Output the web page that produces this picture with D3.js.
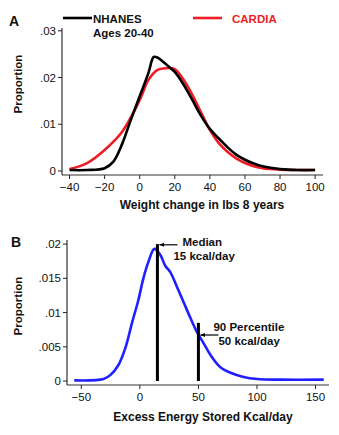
<!DOCTYPE html>
<html>
<head>
<meta charset="utf-8">
<script src="https://cdn.jsdelivr.net/npm/d3@7"></script>
<style>
  body { margin: 0; background: #fff; }
  svg text { font-family: "Liberation Sans", Arial, sans-serif; fill: #111; }
</style>
</head>
<body>
<script>
// weight change distributions (lbs over 8 years)
var weightLbs =      [-40, -30, -20, -15, -10, -5, 0, 5, 8, 10, 13, 17, 20, 25, 30, 35, 40, 45, 50, 55, 60, 65, 70, 80, 90, 100];
var nhanesProp =     [0.0002, 0.0002, 0.0006, 0.002, 0.0058, 0.011, 0.016, 0.021, 0.0244, 0.0243, 0.0235, 0.0222, 0.0212, 0.0185, 0.0152, 0.0118, 0.009, 0.007, 0.0051, 0.0035, 0.0024, 0.0016, 0.001, 0.0004, 0.0002, 0.0002];
var cardiaLbs =      [-40, -30, -20, -10, 0, 5, 10, 15, 20, 25, 30, 35, 40, 45, 50, 55, 60, 65, 70, 80, 100];
var cardiaProp =     [0.0004, 0.0017, 0.0045, 0.0084, 0.0152, 0.0195, 0.0216, 0.022, 0.0218, 0.0195, 0.0163, 0.0125, 0.0088, 0.006, 0.0041, 0.0027, 0.0017, 0.001, 0.0006, 0.0003, 0.0002];
var weightTicks = [-40, -20, 0, 20, 40, 60, 80, 100];
var propTicksA = [0, 0.01, 0.02, 0.03];
var propLabelsA = ["0", ".01", ".02", ".03"];

// excess energy stored (kcal/day)
var energyKcal = [-56, -31, -25, -18.4, -12.4, -6.7, -1.3, 3, 7.3, 12.4, 17.5, 21.8, 26, 31.8, 37.4, 43.2, 48.9, 54.5, 60.3, 68.8, 77.4, 88.5, 100, 120, 157];
var energyProp = [0.0001, 0.0003, 0.0009, 0.0023, 0.0048, 0.0085, 0.0118, 0.015, 0.0174, 0.0193, 0.0184, 0.0168, 0.0159, 0.0137, 0.0115, 0.0092, 0.0071, 0.0055, 0.0038, 0.002, 0.0012, 0.0006, 0.0003, 0.0002, 0.0002];
var energyTicks = [-50, 0, 50, 100, 150];
var propTicksB = [0, 0.005, 0.01, 0.015, 0.02];
var propLabelsB = ["0", ".005", ".01", ".015", ".02"];
var markerKcal = [15, 50];
var markerTop = [0.02, 0.0085];
var markerText = [["Median", "15 kcal/day"], ["90 Percentile", "50 kcal/day"]];

var svg = d3.select("body").append("svg")
  .attr("width", 339).attr("height", 435);

function axes(g, x, y, xt, yt, ylabels) {
  var x0 = x.range()[0], x1 = x.range()[1];
  var y0 = y.range()[0], y1 = y.range()[1];
  g.append("line").attr("x1", x0).attr("x2", x0).attr("y1", y0).attr("y2", y1)
    .attr("stroke", "#333").attr("stroke-width", 1.2);
  g.append("line").attr("x1", x0).attr("x2", x1).attr("y1", y0).attr("y2", y0)
    .attr("stroke", "#333").attr("stroke-width", 1.2);
  g.selectAll(".yt").data(yt).enter().append("line")
    .attr("x1", x0 - 4).attr("x2", x0).attr("y1", y).attr("y2", y)
    .attr("stroke", "#222");
  g.selectAll(".yl").data(yt).enter().append("text")
    .attr("x", x0 - 6).attr("y", function(d){ return y(d) + 4; })
    .attr("text-anchor", "end").style("font-size", "11.5px")
    .text(function(d, i){ return ylabels[i]; });
  g.selectAll(".xt").data(xt).enter().append("line")
    .attr("x1", x).attr("x2", x).attr("y1", y0).attr("y2", y0 + 4)
    .attr("stroke", "#222");
  g.selectAll(".xl").data(xt).enter().append("text")
    .attr("x", x).attr("y", y0 + 16)
    .attr("text-anchor", "middle").style("font-size", "11.5px")
    .text(function(d){ return d < 0 ? "\u2212" + (-d) : d; });
}

// ---- panel A ----
var xA = d3.scaleLinear().domain([-44.3, 104.5]).range([62, 323]);
var yA = d3.scaleLinear().domain([-0.00086, 0.0306]).range([175, 28]);
var gA = svg.append("g");
axes(gA, xA, yA, weightTicks, propTicksA, propLabelsA);

var lineA = d3.line().curve(d3.curveCatmullRom)
  .x(function(d){ return xA(d[0]); }).y(function(d){ return yA(d[1]); });
gA.append("path").datum(d3.zip(cardiaLbs, cardiaProp))
  .attr("d", lineA).attr("fill", "none").attr("stroke", "#ee1c24").attr("stroke-width", 2.6);
gA.append("path").datum(d3.zip(weightLbs, nhanesProp))
  .attr("d", lineA).attr("fill", "none").attr("stroke", "#000").attr("stroke-width", 2.6);

// legend
gA.append("line").attr("x1", 63).attr("x2", 92).attr("y1", 18).attr("y2", 18)
  .attr("stroke", "#000").attr("stroke-width", 2.6);
gA.append("text").attr("x", 93).attr("y", 23).style("font-size", "11.5px").style("font-weight", "bold").text("NHANES");
gA.append("text").attr("x", 93).attr("y", 37).style("font-size", "11.5px").style("font-weight", "bold").text("Ages 20-40");
gA.append("line").attr("x1", 193).attr("x2", 222).attr("y1", 18).attr("y2", 18)
  .attr("stroke", "#ee1c24").attr("stroke-width", 2.6);
gA.append("text").attr("x", 232).attr("y", 23).style("font-size", "11.5px").style("font-weight", "bold")
  .style("fill", "#ee1c24").text("CARDIA");

gA.append("text").attr("x", 9).attr("y", 26).style("font-size", "14px").style("font-weight", "bold").text("A");
gA.append("text").attr("transform", "translate(22,84) rotate(-90)").attr("text-anchor", "middle")
  .style("font-size", "11.5px").style("font-weight", "bold").text("Proportion");
gA.append("text").attr("x", 202).attr("y", 209).attr("text-anchor", "middle")
  .style("font-size", "12px").style("font-weight", "bold").text("Weight change in lbs 8 years");

// ---- panel B ----
var xB = d3.scaleLinear().domain([-62.2, 161.5]).range([67, 329]);
var yB = d3.scaleLinear().domain([-0.00058, 0.0206]).range([385, 240]);
var gB = svg.append("g");
axes(gB, xB, yB, energyTicks, propTicksB, propLabelsB);

var lineB = d3.line().curve(d3.curveCatmullRom)
  .x(function(d){ return xB(d[0]); }).y(function(d){ return yB(d[1]); });
gB.append("path").datum(d3.zip(energyKcal, energyProp))
  .attr("d", lineB).attr("fill", "none").attr("stroke", "#1f1fff").attr("stroke-width", 2.6);

// median and 90th percentile markers
gB.selectAll(".bar").data(markerKcal).enter().append("line")
  .attr("x1", xB).attr("x2", xB)
  .attr("y1", function(d, i){ return yB(markerTop[i]); }).attr("y2", yB(0))
  .attr("stroke", "#000").attr("stroke-width", 3);

var defs = svg.append("defs");
defs.append("marker").attr("id", "arr").attr("viewBox", "0 0 10 10")
  .attr("refX", 0).attr("refY", 5).attr("markerWidth", 5).attr("markerHeight", 5)
  .attr("markerUnits", "userSpaceOnUse").attr("orient", "auto")
  .append("path").attr("d", "M0,5L10,0.5L10,9.5Z").attr("fill", "#000");

var arrowY = [yB(0.0199), 335];
var textDx = [[25, 16], [15, 20]];
markerKcal.forEach(function(k, i){
  var bx = xB(k);
  gB.append("line").attr("x1", bx + 2).attr("x2", bx + 20).attr("y1", arrowY[i]).attr("y2", arrowY[i])
    .attr("stroke", "#000").attr("stroke-width", 1.2).attr("marker-start", "url(#arr)");
  gB.append("text").attr("x", bx + textDx[i][0]).attr("y", arrowY[i] + (i ? -4 : 1))
    .style("font-size", "11.5px").style("font-weight", "bold").text(markerText[i][0]);
  gB.append("text").attr("x", bx + textDx[i][1]).attr("y", arrowY[i] + (i ? 10 : 15))
    .style("font-size", "11.5px").style("font-weight", "bold").text(markerText[i][1]);
});

gB.append("text").attr("x", 11).attr("y", 247).style("font-size", "14px").style("font-weight", "bold").text("B");
gB.append("text").attr("transform", "translate(22,306) rotate(-90)").attr("text-anchor", "middle")
  .style("font-size", "11.5px").style("font-weight", "bold").text("Proportion");
gB.append("text").attr("x", 203).attr("y", 421).attr("text-anchor", "middle")
  .style("font-size", "12px").style("font-weight", "bold").text("Excess Energy Stored Kcal/day");
</script>
</body>
</html>
